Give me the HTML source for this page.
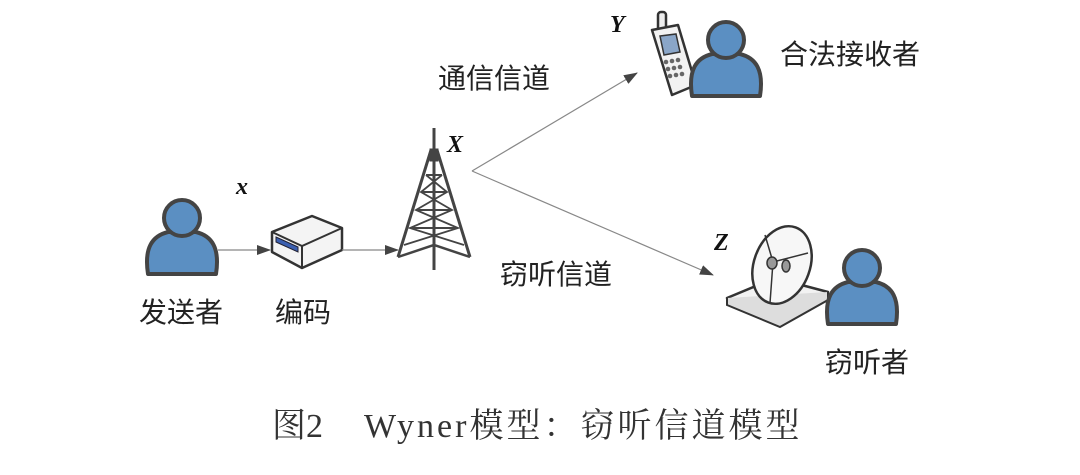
<!DOCTYPE html>
<html><head><meta charset="utf-8"><style>
html,body{margin:0;padding:0;background:#fff;}
svg{display:block}
.cn{font-family:"Liberation Sans","Noto Sans CJK SC",sans-serif;font-size:28px;fill:#222}
.it{font-family:"Liberation Serif",serif;font-style:italic;font-weight:bold;font-size:24px;fill:#111}
.cap{font-family:"Liberation Serif","Noto Serif CJK SC",serif;font-size:34px;fill:#333}
</style></head><body>
<svg width="1080" height="475" viewBox="0 0 1080 475">
<defs>
<marker id="ar" markerWidth="14" markerHeight="10" refX="13" refY="5" orient="auto" markerUnits="userSpaceOnUse">
<path d="M0,0 L14,5 L0,10 Z" fill="#444"/></marker>
<g id="person">
<path d="M-34,56 C-38,30 -30,18 -14,14 L14,14 C30,18 38,30 34,56 Z" fill="#5b8fc2" stroke="#444" stroke-width="4" stroke-linejoin="round"/>
<circle cx="0" cy="0" r="18" fill="#5b8fc2" stroke="#444" stroke-width="4"/>
</g>
</defs>
<use href="#person" x="182" y="218"/>
<line x1="218" y1="250" x2="270" y2="250" stroke="#888" stroke-width="1.3" marker-end="url(#ar)"/>
<path d="M272,232 L312,216 L342,228 L342,250 L302,268 L272,252 Z" fill="#f4f4f4" stroke="#333" stroke-width="2.5" stroke-linejoin="round"/>
<path d="M272,232 L302,246 L342,228 M302,246 L302,268" fill="none" stroke="#333" stroke-width="2"/>
<path d="M276,237 L298,247 L298,252 L276,242 Z" fill="#3b5fb0" stroke="#223" stroke-width="1"/>
<line x1="342" y1="250" x2="398" y2="250" stroke="#888" stroke-width="1.3" marker-end="url(#ar)"/>
<g stroke="#444" fill="none" stroke-width="3">
<line x1="434" y1="128" x2="434" y2="270"/>
<path d="M431,150 L398,257 M437,150 L470,257"/>
<path d="M398,257 L434,245 L470,257" stroke-width="2.5"/>
<path d="M426,175 L442,175 M421,192 L447,192 M416,210 L452,210 M410,228 L458,228" stroke-width="2"/>
<path d="M426,175 L447,192 L416,210 L458,228 L404,245 M442,175 L421,192 L452,210 L410,228 L464,245" stroke-width="1.8"/>
<rect x="431" y="150" width="6" height="10" fill="#444"/>
</g>
<text class="it" x="447" y="152">X</text>
<text class="it" x="236" y="194">x</text>
<line x1="472" y1="171" x2="637" y2="73" stroke="#888" stroke-width="1.2" marker-end="url(#ar)"/>
<line x1="472" y1="171" x2="713" y2="275" stroke="#888" stroke-width="1.2" marker-end="url(#ar)"/>
<text class="cn" x="438" y="88">通信信道</text>
<text class="cn" x="500" y="284">窃听信道</text>
<g stroke="#333" stroke-width="2.5">
<rect x="658" y="12" width="8" height="20" rx="3" fill="#eee"/>
<path d="M652,30 L678,25 L696,85 L672,95 Z" fill="#f2f2f2" stroke-linejoin="round"/>
<path d="M660,36 L676,34 L680,52 L664,55 Z" fill="#8aa6c8" stroke-width="1.5"/>
</g>
<g fill="#666"><circle cx="666" cy="62" r="2.3"/><circle cx="672" cy="61" r="2.3"/><circle cx="678" cy="60" r="2.3"/><circle cx="668" cy="69" r="2.3"/><circle cx="674" cy="68" r="2.3"/><circle cx="680" cy="67" r="2.3"/><circle cx="670" cy="76" r="2.3"/><circle cx="676" cy="75" r="2.3"/><circle cx="682" cy="74" r="2.3"/></g>
<use href="#person" x="726" y="40"/>
<text class="it" x="610" y="32">Y</text>
<text class="cn" x="780" y="64">合法接收者</text>
<path d="M727,298 L775,278 L828,292 L780,318 Z" fill="#f2f2f2" stroke="#333" stroke-width="2.5" stroke-linejoin="round"/>
<path d="M727,298 L727,305 L780,327 L828,300 L828,292" fill="#ddd" stroke="#333" stroke-width="2"/>
<ellipse cx="782" cy="265" rx="28" ry="40" transform="rotate(20 782 265)" fill="#f7f7f7" stroke="#333" stroke-width="2.5"/>
<path d="M765,235 L773,262 L808,253 M773,262 L770,303" fill="none" stroke="#333" stroke-width="1.5"/>
<ellipse cx="772" cy="263" rx="5" ry="6" fill="#999" stroke="#333" stroke-width="1.5"/>
<ellipse cx="786" cy="266" rx="4" ry="6" fill="#999" stroke="#333" stroke-width="1.5"/>
<use href="#person" x="862" y="268"/>
<text class="it" x="714" y="250">Z</text>
<text class="cn" x="825" y="372">窃听者</text>
<text class="cn" x="139" y="322">发送者</text>
<text class="cn" x="275" y="322">编码</text>
<text class="cap" x="272" y="437">图2</text>
<text class="cap" x="364" y="437" letter-spacing="3">Wyner模型：窃听信道模型</text>
</svg>
</body></html>
